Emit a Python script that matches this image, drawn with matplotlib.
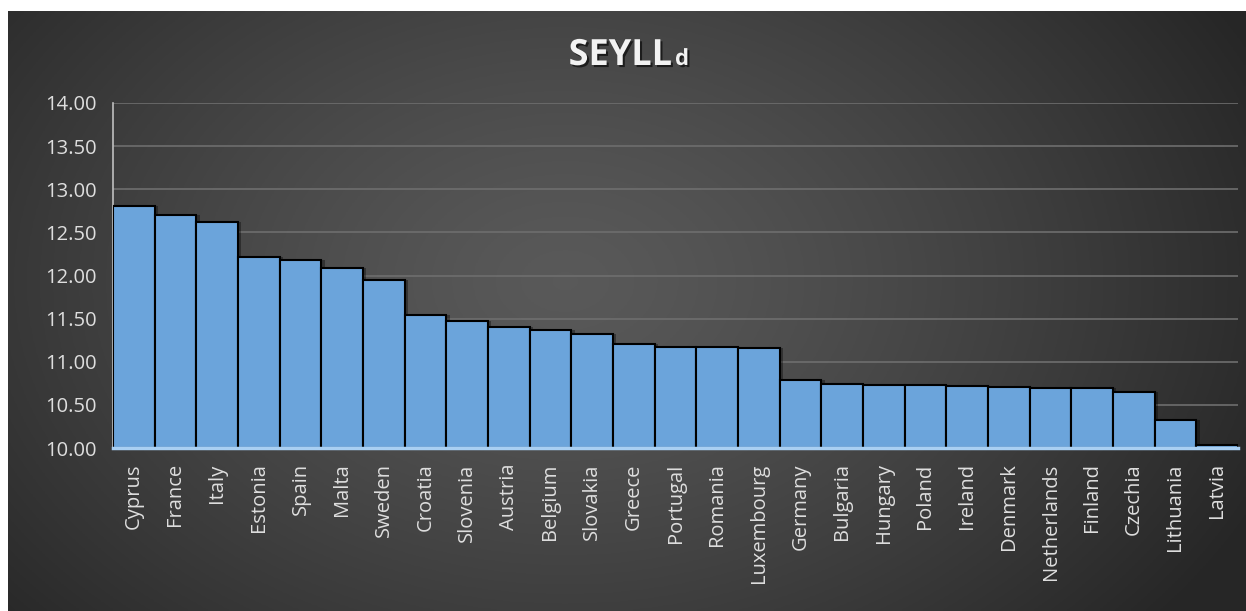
import matplotlib.pyplot as plt
import matplotlib.patheffects as pe
import numpy as np

plt.rcParams['font.family'] = ['Open Sans', 'DejaVu Sans']

countries = ['Cyprus', 'France', 'Italy', 'Estonia', 'Spain', 'Malta', 'Sweden',
             'Croatia', 'Slovenia', 'Austria', 'Belgium', 'Slovakia', 'Greece',
             'Portugal', 'Romania', 'Luxembourg', 'Germany', 'Bulgaria', 'Hungary',
             'Poland', 'Ireland', 'Denmark', 'Netherlands', 'Finland', 'Czechia',
             'Lithuania', 'Latvia']
seyll = [12.81, 12.70, 12.62, 12.22, 12.18, 12.09, 11.95,
         11.54, 11.47, 11.40, 11.37, 11.32, 11.21,
         11.17, 11.17, 11.16, 10.79, 10.74, 10.73,
         10.73, 10.72, 10.71, 10.70, 10.70, 10.65,
         10.32, 10.04]
yticks = [10.0, 10.5, 11.0, 11.5, 12.0, 12.5, 13.0, 13.5, 14.0]

W, H = 1246, 611
fig = plt.figure(figsize=(W / 100, H / 100), dpi=100, facecolor='white')

# dark radial background
bg = fig.add_axes([8 / W, 0, 1 - 8 / W, 1 - 11 / H])
gx, gy = np.meshgrid(np.linspace(0, 1, 400), np.linspace(0, 1, 200))
d = np.sqrt(((gx - 0.45) / 0.62) ** 2 + ((gy - 0.55) / 0.9) ** 2)
g = 0.35 - 0.20 * np.clip(d, 0, 1) ** 1.3
bg.imshow(np.dstack([g, g, g]), aspect='auto', extent=[0, 1, 0, 1], origin='lower')
bg.axis('off')

ax = fig.add_axes([113 / W, 1 - 448 / H, (1238 - 113) / W, (448 - 103) / H])
ax.patch.set_alpha(0)
x = np.arange(len(countries))

# soft shadow behind bars
ax.bar(x + 0.08, np.array(seyll) - 10, bottom=10, width=1.0, color='black',
       alpha=0.35, linewidth=0, zorder=2)
ax.bar(x, np.array(seyll) - 10, bottom=10, width=1.0, color='#6ba4db',
       edgecolor='black', linewidth=1.5, zorder=3)

ax.set_xlim(-0.5, len(countries) - 0.5)
ax.set_ylim(10, 14)
ax.set_yticks(yticks)
ax.set_yticklabels([f'{v:.2f}' for v in yticks])
ax.grid(axis='y', color='#6e6e6e', linewidth=1.2, zorder=1)
ax.set_axisbelow(True)
ax.set_xticks(x)
ax.set_xticklabels(countries, rotation=90, va='top', ha='center')
ax.tick_params(axis='both', length=0, colors='#dedede', labelsize=14.5)
ax.tick_params(axis='y', pad=12)
ax.tick_params(axis='x', pad=11)

for s in ['top', 'right']:
    ax.spines[s].set_visible(False)
ax.spines['left'].set_color('#bfbfbf')
ax.spines['left'].set_linewidth(1.2)
ax.spines['bottom'].set_color('#a9cff2')
ax.spines['bottom'].set_linewidth(2.5)
ax.spines['bottom'].set_zorder(4)

shadow = [pe.withSimplePatchShadow(offset=(1.5, -1.5), shadow_rgbFace='black', alpha=0.6)]
fig.text(672 / W, 1 - 65 / H, 'SEYLL', ha='right', va='baseline', fontsize=26,
         fontweight='bold', color='#f2f2f2', path_effects=shadow)
fig.text(675 / W, 1 - 65 / H, 'd', ha='left', va='baseline', fontsize=16,
         fontweight='bold', color='#f2f2f2', path_effects=shadow)

fig.savefig('out.png', dpi=100, facecolor=fig.get_facecolor())
